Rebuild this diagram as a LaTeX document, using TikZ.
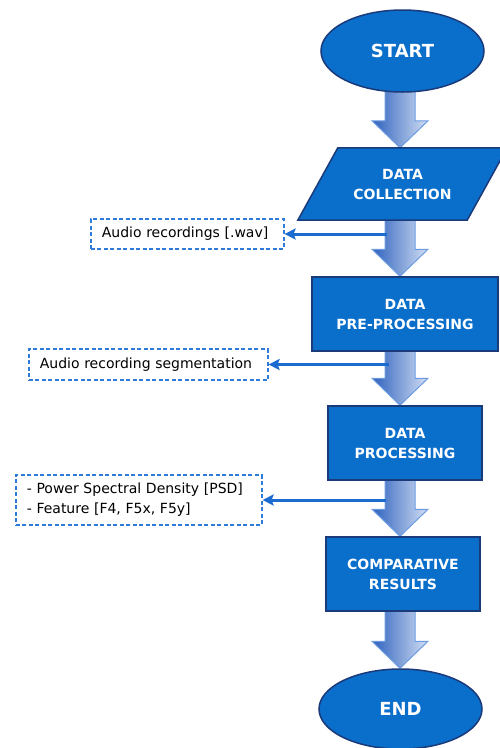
\documentclass[tikz,border=0pt]{standalone}
\usepackage{fontspec}
\setmainfont{DejaVu Sans}
\usetikzlibrary{shapes.geometric,arrows.meta,calc}
\pgfdeclarelayer{bg}
\pgfdeclarelayer{mid}
\pgfsetlayers{bg,mid,main}
\definecolor{boxblue}{HTML}{0A6ECB}
\definecolor{boxedge}{HTML}{1B3A7A}
\definecolor{arrdark}{HTML}{2F62BD}
\definecolor{arrlight}{HTML}{D2DEF4}
\definecolor{arredge}{HTML}{6A9BE2}
\definecolor{connblue}{HTML}{1C6BD0}
\definecolor{dashblue}{HTML}{2F7BDA}
\tikzset{
  mainnode/.style={fill=boxblue, draw=boxedge, line width=1.5pt, text=white,
    font=\bfseries\fontsize{14}{20}\selectfont, align=center},
  termnode/.style={mainnode, ellipse, inner sep=0pt, font=\bfseries\fontsize{18}{22}\selectfont},
  procbox/.style={mainnode, rectangle, inner sep=0pt},
  notebox/.style={draw=dashblue, line width=1.6pt, dash pattern=on 4pt off 2.5pt, fill=white,
    font=\fontsize{14}{20}\selectfont, align=left, inner xsep=11pt, inner ysep=0pt, anchor=west},
  conn/.style={draw=connblue, line width=3pt, -{Stealth[length=11pt,width=11pt,inset=2pt]}},
  bigarrow/.style={left color=arrdark, right color=arrlight, draw=arredge, line width=1pt, line join=miter},
}
\newcommand{\blockarrow}[2]{%
  \begin{pgfonlayer}{bg}
  \path[bigarrow] let \p1=(#1.south), \p2=(#2.north) in
    (385pt,\y1+4pt) -- (385pt,\y2+27pt) -- (372pt,\y2+27pt) -- (400pt,\y2)
    -- (428pt,\y2+27pt) -- (415pt,\y2+27pt) -- (415pt,\y1+4pt) -- cycle;
  \end{pgfonlayer}}
\begin{document}
\begin{tikzpicture}[x=1pt,y=-1pt]
\useasboundingbox (0,0) rectangle (500,748);
% main flow
\node[termnode, minimum width=163pt, minimum height=82pt] (start) at (402.5,51) {START};
\node[text=white, font=\bfseries\fontsize{14}{20}\selectfont, align=center, inner sep=0pt,
  minimum width=169pt, minimum height=72pt] (dc) at (402.5,184) {DATA\\COLLECTION};
\begin{pgfonlayer}{mid}
\draw[fill=boxblue, draw=boxedge, line width=1.5pt, line join=miter]
  ([xshift=20pt]dc.north west) -- ([xshift=20pt]dc.north east)
  -- ([xshift=-20pt]dc.south east) -- ([xshift=-20pt]dc.south west) -- cycle;
\end{pgfonlayer}
\node[procbox, minimum width=186pt, minimum height=74pt] (pre) at (405,314) {DATA\\PRE-PROCESSING};
\node[procbox, minimum width=154pt, minimum height=74pt] (proc) at (405,443) {DATA\\PROCESSING};
\node[procbox, minimum width=154pt, minimum height=74pt] (comp) at (403,574) {COMPARATIVE\\RESULTS};
\node[termnode, minimum width=163pt, minimum height=80pt] (end) at (400.5,709) {END};
% block arrows
\blockarrow{start}{dc}
\blockarrow{dc}{pre}
\blockarrow{pre}{proc}
\blockarrow{proc}{comp}
\blockarrow{comp}{end}
% notes
\node[notebox, text width=171pt, minimum height=30pt] (n1) at (90,234) {Audio recordings [.wav]};
\node[notebox, text width=217pt, minimum height=31pt] (n2) at (28,364.5) {Audio recording segmentation};
\node[notebox, text width=224pt, minimum height=50pt] (n3) at (15,500) {- Power Spectral Density [PSD]\\- Feature [F4, F5x, F5y]};
\coordinate (a1) at (387,234);
\coordinate (a2) at (389,364.5);
\coordinate (a3) at (386,500);
\draw[conn] (a1) -- (n1.east);
\draw[conn] (a2) -- (n2.east);
\draw[conn] (a3) -- (n3.east);
\end{tikzpicture}
\end{document}
